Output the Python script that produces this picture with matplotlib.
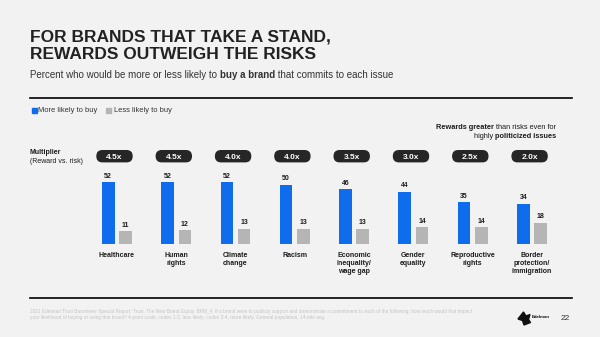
import matplotlib
matplotlib.use("Agg")
import matplotlib.pyplot as plt
from matplotlib.patches import FancyBboxPatch, Polygon, Rectangle
from matplotlib.lines import Line2D

plt.rcParams['font.family'] = ['Liberation Sans', 'DejaVu Sans']

issues = ["Healthcare", "Human\nrights", "Climate\nchange", "Racism",
          "Economic\ninequality/\nwage gap", "Gender\nequality",
          "Reproductive\nrights", "Border\nprotection/\nimmigration"]
more_likely = [52, 52, 52, 50, 46, 44, 35, 34]
less_likely = [11, 12, 13, 13, 13, 14, 14, 18]
multipliers = ["4.5x", "4.5x", "4.0x", "4.0x", "3.5x", "3.0x", "2.5x", "2.0x"]

BLUE = "#0f6cec"
GRAY = "#b5b5b5"
DARK = "#1c1c1c"
BG = "#f2f2f2"

W, H = 600, 337
fig = plt.figure(figsize=(W / 100, H / 100), dpi=100, facecolor=BG)


def fx(x):
    return x / W


def fy(y):
    return 1 - y / H


def rich(x, y, parts, size, ha="left", color=DARK):
    # draw text pieces side by side, mixing bold and regular runs
    r = fig.canvas.get_renderer()
    arts = []
    for s, bold in parts:
        t = fig.text(0, 0, s, fontsize=size, color=color, va="baseline",
                     fontweight="bold" if bold else "normal")
        arts.append((t, t.get_window_extent(r).width))
    total = sum(w for _, w in arts)
    cx = x - total if ha == "right" else x
    for t, w in arts:
        t.set_position((fx(cx), fy(y)))
        cx += w


# header
fig.text(fx(30), fy(41.7), "FOR BRANDS THAT TAKE A STAND,", fontsize=12.5,
         fontweight="bold", color="#222222", va="baseline")
fig.text(fx(30), fy(59.3), "REWARDS OUTWEIGH THE RISKS", fontsize=12.5,
         fontweight="bold", color="#222222", va="baseline")
rich(30, 78.5, [("Percent who would be more or less likely to ", False),
                ("buy a brand", True),
                (" that commits to each issue", False)], 7, color="#333333")

for yy in (97.7, 297.7):
    fig.add_artist(Line2D([fx(30), fx(572)], [fy(yy), fy(yy)], color="black",
                          lw=1.2, transform=fig.transFigure))

# legend
fig.add_artist(Rectangle((fx(31.5), fy(112.5)), fx(5), 5 / H, color=BLUE,
                         transform=fig.transFigure))
fig.text(fx(38.5), fy(112), "More likely to buy", fontsize=5.4, color="#333333",
         va="baseline")
fig.add_artist(Rectangle((fx(106), fy(112.5)), fx(5), 5 / H, color=GRAY,
                         transform=fig.transFigure))
fig.text(fx(114), fy(112), "Less likely to buy", fontsize=5.4, color="#333333",
         va="baseline")

rich(556, 129, [("Rewards greater", True), (" than risks even for", False)],
     5.3, ha="right")
rich(556, 138.5, [("highly ", False), ("politicized issues", True)],
     5.3, ha="right")

fig.text(fx(30), fy(154.5), "Multiplier", fontsize=5, fontweight="bold",
         color=DARK, va="baseline")
fig.text(fx(30), fy(162.5), "(Reward vs. risk)", fontsize=5, color=DARK,
         va="baseline")

# bar area: 59.3 px per issue, 1.19 px per percentage point
x0_px, step_px, base_px, unit_px = 114.5, 59.3, 244, 1.19
left_px, right_px, top_px = 60, 590, 140
ax = fig.add_axes([fx(left_px), fy(base_px), fx(right_px - left_px),
                   (base_px - top_px) / H])
ax.set_xlim((left_px - x0_px) / step_px, (right_px - x0_px) / step_px)
ax.set_ylim(0, (base_px - top_px) / unit_px)
ax.axis("off")

bw = 12.5 / step_px
off_more = -6.25 / step_px
off_less = 11 / step_px
xs = list(range(len(issues)))

ax.bar([x + off_more for x in xs], more_likely, width=bw, color=BLUE)
ax.bar([x + off_less for x in xs], less_likely, width=bw, color=GRAY)

for x, v in zip(xs, more_likely):
    ax.annotate(str(v), (x + off_more, v), xytext=(0, 3), textcoords="offset points",
                ha="center", va="baseline", fontsize=5, fontweight="bold", color=DARK)
for x, v in zip(xs, less_likely):
    ax.annotate(str(v), (x + off_less, v), xytext=(0, 3), textcoords="offset points",
                ha="center", va="baseline", fontsize=5, fontweight="bold", color=DARK)

for x, name in zip(xs, issues):
    ax.annotate(name, (x + 2.4 / step_px, 0), xytext=(0, -5.5), textcoords="offset points",
                ha="center", va="top", fontsize=5, fontweight="bold", color=DARK,
                linespacing=1.2, annotation_clip=False)

# multiplier pills
pill_y = (base_px - 156.2) / unit_px
pill_w = 35 / step_px
pill_h = 11 / unit_px
aspect = step_px / unit_px
for x, m in zip(xs, multipliers):
    ax.add_patch(FancyBboxPatch((x - pill_w / 2, pill_y - pill_h / 2), pill_w, pill_h,
                                boxstyle="round,pad=0,rounding_size=%f" % (5.4 / step_px),
                                mutation_aspect=aspect, color="#262626", clip_on=False))
    ax.text(x, pill_y, m, ha="center", va="center_baseline", fontsize=6,
            fontweight="bold", color="white")

# footer
foot1 = ("2021 Edelman Trust Barometer Special Report: Trust, The New Brand Equity. BRM_4. "
         "If a brand were to publicly support and demonstrate a commitment to each of the following, "
         "how much would that impact")
foot2 = ("your likelihood of buying or using that brand? 4-point scale; codes 1-2, less likely; "
         "codes 3-4, more likely. General population, 14-mkt avg.")
fig.text(fx(30), fy(313), foot1, fontsize=3.4, color="#c4c4c4", va="baseline")
fig.text(fx(30), fy(319), foot2, fontsize=3.4, color="#c4c4c4", va="baseline")

fig.add_artist(Polygon([(fx(518), fy(319)), (fx(523.5), fy(312)), (fx(526), fy(316)),
                        (fx(530), fy(314.5)), (fx(528.5), fy(319.5)), (fx(530.5), fy(322.5)),
                        (fx(524), fy(325)), (fx(522.5), fy(320.5))],
                       closed=True, color="#111111", transform=fig.transFigure))
fig.text(fx(531.5), fy(318), "Edelman", fontsize=3.2, fontweight="bold",
         color="#111111", va="baseline")
fig.text(fx(561), fy(320), "22", fontsize=6, color="#333333", va="baseline")

fig.savefig("out.png", dpi=100, facecolor=BG)
